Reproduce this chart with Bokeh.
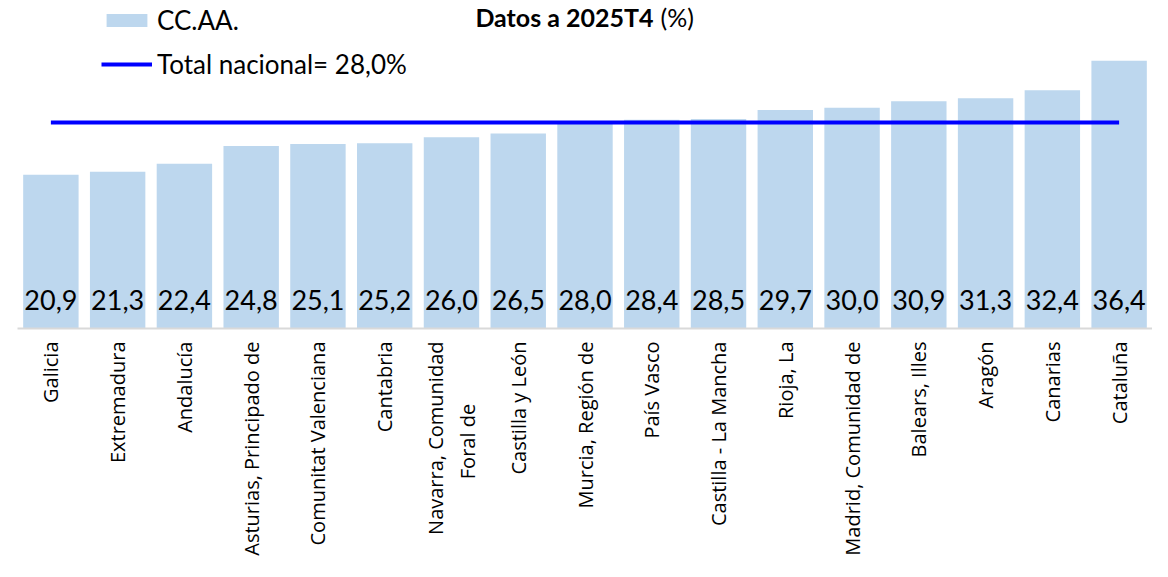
from math import pi
from bokeh.plotting import figure
from bokeh.models import (FactorRange, Range1d, Legend, LegendItem, Label, ColumnDataSource,
                          CustomJSTickFormatter)
from bokeh.core.properties import value
from bokeh.embed import file_html
from bokeh.resources import INLINE

categories = ["Galicia", "Extremadura", "Andalucía", "Asturias, Principado de",
              "Comunitat Valenciana", "Cantabria", "Navarra, Comunidad Foral de",
              "Castilla y León", "Murcia, Región de", "País Vasco", "Castilla - La Mancha",
              "Rioja, La", "Madrid, Comunidad de", "Balears, Illes", "Aragón",
              "Canarias", "Cataluña"]
values = [20.9, 21.3, 22.4, 24.8, 25.1, 25.2, 26.0, 26.5, 28.0, 28.4, 28.5,
          29.7, 30.0, 30.9, 31.3, 32.4, 36.4]
nacional = 28.0
title_main = "Datos a 2025T4"
title_unit = "(%)"

def fmt(v):
    return f"{v:.1f}".replace(".", ",")

src = ColumnDataSource(dict(cat=categories, val=values, zero=[0] * len(values),
                            lab=[fmt(v) for v in values]))

p = figure(width=1152, height=561, output_backend="svg", toolbar_location=None,
           x_range=FactorRange(factors=categories, range_padding=0),
           y_range=Range1d(0, 44.6),
           min_border_left=17, min_border_right=0, min_border_top=0, min_border_bottom=233)

bars = p.vbar(x="cat", top="val", width=0.83, source=src,
              fill_color="#BDD7EE", line_color=None)
line = p.line(x=[categories[0], categories[-1]], y=[nacional, nacional],
              line_color="#0000FF", line_width=4)

p.text(x="cat", y="zero", text="lab", source=src, text_align="center",
       text_baseline="alphabetic", y_offset=-29, text_font=value("Lato"),
       text_font_size="27px", text_color="#000000")

p.yaxis.visible = False
p.xgrid.visible = False
p.ygrid.visible = False
p.outline_line_color = None
p.xaxis.axis_line_color = "#D9D9D9"
p.xaxis.axis_line_width = 2
p.xaxis.major_tick_line_color = None
p.xaxis.minor_tick_line_color = None
p.xaxis.major_label_orientation = pi / 2
p.xaxis.major_label_text_font = "Open Sans"
p.xaxis.major_label_text_font_size = "20px"
p.xaxis.major_label_text_color = "#000000"
p.xaxis.major_label_standoff = 7
p.xaxis.major_label_text_align = "right"
# wrap the long Navarra label on two lines, second line centred under the first
p.xaxis.formatter = CustomJSTickFormatter(code="""
    if (tick === "Navarra, Comunidad Foral de")
        return "Navarra, Comunidad\\nForal de" + "\\u00a0".repeat(12);
    return tick;
""")

legend = Legend(items=[LegendItem(label="CC.AA.", renderers=[bars]),
                       LegendItem(label=f"Total nacional= {fmt(nacional)}%", renderers=[line])],
                location=(84, 248), orientation="vertical",
                glyph_width=51, glyph_height=16, label_standoff=5, spacing=12,
                padding=0, margin=0, border_line_color=None, background_fill_alpha=0,
                label_text_font="Lato", label_text_font_size="26px", label_text_color="#000000")
p.add_layout(legend, "center")

p.add_layout(Label(x=636, y=312, x_units="screen", y_units="screen", text=title_main,
                   text_align="right", text_baseline="middle", text_font="Lato",
                   text_font_style="bold", text_font_size="25px", text_color="#000000"))
p.add_layout(Label(x=643, y=312, x_units="screen", y_units="screen", text=title_unit,
                   text_align="left", text_baseline="middle", text_font="Lato",
                   text_font_size="25px", text_color="#000000"))

open("out.html", "w").write(file_html(p, INLINE))
